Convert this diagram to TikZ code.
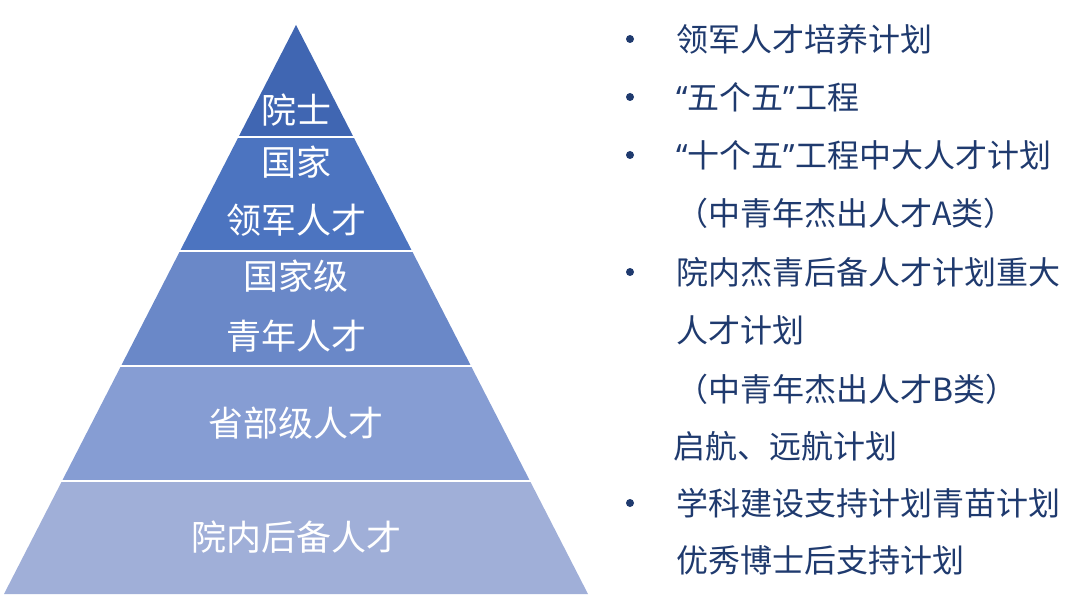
\documentclass[tikz,border=0pt]{standalone}
\usepackage{fontspec}
\setmainfont{Noto Sans CJK SC}
\newfontfamily\latinq{Noto Sans}
\usepackage{tikz}
\usetikzlibrary{positioning}

\definecolor{layerA}{HTML}{4066B2}
\definecolor{layerB}{HTML}{4C74C0}
\definecolor{layerC}{HTML}{6A88C8}
\definecolor{layerD}{HTML}{869DD3}
\definecolor{layerE}{HTML}{A0AFD8}
\definecolor{navy}{HTML}{1F3A6E}

\newcommand{\openq}{{\latinq “}}
\newcommand{\closeq}{{\latinq ”}}

\begin{document}
\begin{tikzpicture}[
x=1pt, y=-1pt,
level/.style={text=white, font=\fontsize{35}{42}\selectfont},
item/.style={anchor=west, text=navy, font=\fontsize{32}{38}\selectfont, inner sep=0pt},
dot/.style={circle, fill=navy, inner sep=0pt, minimum size=8pt}
]
\useasboundingbox (0,0) rectangle (1080,599);

% pyramid layers
\fill[layerA] (296,25) -- (238.5,137) -- (353.5,137) -- cycle;
\fill[layerB] (238.5,137) -- (180,251) -- (412,251) -- (353.5,137) -- cycle;
\fill[layerC] (180,251) -- (121,366) -- (471,366) -- (412,251) -- cycle;
\fill[layerD] (121,366) -- (62,481) -- (530,481) -- (471,366) -- cycle;
\fill[layerE] (62,481) -- (4,594) -- (588,594) -- (530,481) -- cycle;
\foreach \y/\xl/\xr in {137/238.5/353.5, 251/180/412, 366/121/471, 481/62/530}
  \draw[white, line width=2.5pt] (\xl-2,\y) -- (\xr+2,\y);

\node[level] (ys) at (296,110) {院士};
\node[level] (gj) at (296,162) {国家};
\node[level] (ljrc) at (296,220) {领军人才};
\node[level] (gjj) at (296,276) {国家级};
\node[level] (qnrc) at (296,336) {青年人才};
\node[level] (sbj) at (296,423) {省部级人才};
\node[level] (ynhb) at (296,537) {院内后备人才};

% list on the right
\node[dot] (b1) at (630,39) {};
\node[dot] (b2) at (630,97) {};
\node[dot] (b3) at (630,155) {};
\node[dot] (b4) at (630,272) {};
\node[dot] (b5) at (630,503) {};

\node[item] (t1) at (676,39) {领军人才培养计划};
\node[item] (t2) at (676,97) {\openq 五个五\closeq 工程};
\node[item] (t3) at (676,155) {\openq 十个五\closeq 工程中大人才计划};
\node[item] (t3b) at (676,213) {（中青年杰出人才A类）};
\node[item] (t4) at (676,272) {院内杰青后备人才计划重大};
\node[item] (t4b) at (676,330) {人才计划};
\node[item] (t4c) at (676,389) {（中青年杰出人才B类）};
\node[item] (t4d) at (673,446) {启航、远航计划};
\node[item] (t5) at (676,503) {学科建设支持计划青苗计划};
\node[item] (t5b) at (676,560) {优秀博士后支持计划};

\end{tikzpicture}
\end{document}
